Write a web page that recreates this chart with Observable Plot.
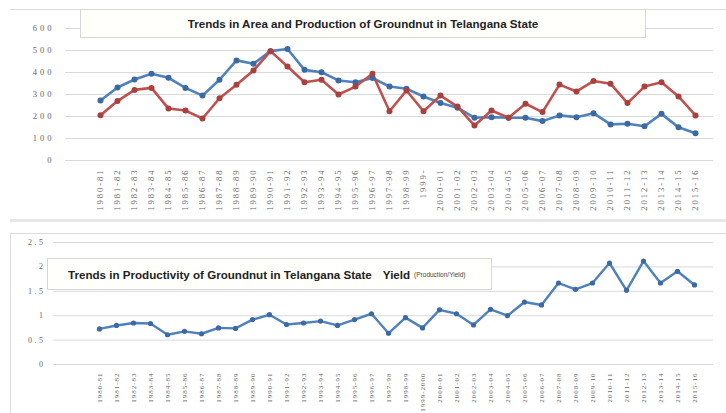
<!DOCTYPE html>
<html>
<head>
<meta charset="utf-8">
<script src="https://cdn.jsdelivr.net/npm/d3@7"></script>
<script src="https://cdn.jsdelivr.net/npm/@observablehq/plot@0.6"></script>
<style>
  html, body { margin: 0; padding: 0; background: #fff; }
  #page { position: relative; width: 726px; height: 413px; overflow: hidden; background: #fff; font-family: "Liberation Sans", Arial, sans-serif; }
  .panel { position: absolute; border: 1px solid #dcdcdc; box-sizing: border-box; }
  .chart { position: absolute; left: 0; }
  .titlebox { position: absolute; box-sizing: border-box; border: 1px solid #d6d6d6; background: #fffffb; font-weight: bold; font-size: 11.6px; color: #222; display: flex; align-items: center; white-space: nowrap; }
  .chart svg text { font-family: "Liberation Serif", "DejaVu Serif", serif; fill: #666; }
  #top [aria-label="x-axis tick label"] text { letter-spacing: 2px; }
  #top [aria-label="y-axis tick label"] text { letter-spacing: 3px; }
  #bottom [aria-label="x-axis tick label"] text { letter-spacing: 1px; }
  #bottom [aria-label="y-axis tick label"] text { letter-spacing: 2.5px; }
</style>
</head>
<body>
<div id="page">
  <div class="panel" style="left:10px; top:9px; width:716px; height:213px; border-left:none; border-right:none; border-bottom:3px solid #e6e6e6;"></div>
  <div class="panel" style="left:10px; top:233px; width:716px; height:182px; border-right:none;"></div>
  <div id="top" class="chart" style="top:0px;"></div>
  <div id="bottom" class="chart" style="top:233px;"></div>
  <div class="titlebox" style="left:80px; top:9px; width:566px; height:29px; justify-content:center;">Trends in Area and Production of Groundnut in Telangana State</div>
  <div class="titlebox" style="left:47px; top:258px; width:445px; height:32px; padding-left:20px;">Trends in Productivity of Groundnut in Telangana State<span style="margin-left:11px;">Yield</span><span style="font-weight:normal; font-size:6.5px; margin-left:4px; color:#444;">(Production/Yield)</span></div>
</div>
<script>
const years = ["1980-81","1981-82","1982-83","1983-84","1984-85","1985-86","1986-87","1987-88","1988-89","1989-90",
  "1990-91","1991-92","1992-93","1993-94","1994-95","1995-96","1996-97","1997-98","1998-99","1999-2000",
  "2000-01","2001-02","2002-03","2003-04","2004-05","2005-06","2006-07","2007-08","2008-09","2009-10",
  "2010-11","2011-12","2012-13","2013-14","2014-15","2015-16"];

const area = [273,332,368,394,376,330,295,367,455,440,
  497,507,412,401,364,356,375,336,326,291,
  261,240,194,197,194,194,179,205,197,215,
  164,167,156,212,151,124];

const production = [206,270,321,330,236,227,191,283,344,409,
  497,427,356,367,300,336,394,224,318,224,
  295,245,159,227,194,258,220,345,314,361,
  349,261,336,356,291,205];

const yieldValues = [0.73,0.80,0.85,0.84,0.61,0.68,0.63,0.75,0.74,0.92,
  1.02,0.82,0.85,0.89,0.80,0.92,1.04,0.64,0.96,0.75,
  1.12,1.04,0.81,1.13,1.00,1.28,1.22,1.67,1.54,1.67,
  2.08,1.52,2.12,1.67,1.91,1.63];

const topTicks = [0,100,200,300,400,500,600];
const bottomTicks = [0,0.5,1,1.5,2,2.5];

const blue = "#4f81bd", blueDark = "#3b6aa3";
const red = "#c0504d", redDark = "#a8403d";

const topData = years.flatMap((yr, i) => [
  {year: yr, series: "Area", value: area[i]},
  {year: yr, series: "Production", value: production[i]}
]);
const yieldData = years.map((yr, i) => ({year: yr, value: yieldValues[i]}));

const topPlot = Plot.plot({
  width: 726, height: 222,
  marginLeft: 65, marginRight: 13, marginTop: 28, marginBottom: 62,
  x: {type: "point", domain: years, range: [91, 703], label: null},
  y: {domain: [0, 600], label: null},
  color: {domain: ["Area", "Production"], range: [blue, red]},
  marks: [
    Plot.gridY(topTicks, {stroke: "#d9d9d9", strokeOpacity: 1}),
    Plot.axisY(topTicks, {tickSize: 0, tickPadding: 11, fontSize: 8.5, label: null}),
    Plot.axisX({tickSize: 0, tickPadding: 8, tickRotate: -90, fontSize: 8.5, label: null,
      tickFormat: d => d === "1999-2000" ? "1999-" : d}),
    Plot.line(topData, {x: "year", y: "value", z: "series", stroke: "series", strokeWidth: 2.6}),
    Plot.dot(topData, {x: "year", y: "value", fill: d => d.series === "Area" ? blueDark : redDark, r: 3})
  ]
});
document.getElementById("top").appendChild(topPlot);

const bottomPlot = Plot.plot({
  width: 726, height: 180,
  marginLeft: 53, marginRight: 13, marginTop: 9, marginBottom: 49,
  x: {type: "point", domain: years, range: [85, 708], label: null},
  y: {domain: [0, 2.5], label: null},
  marks: [
    Plot.gridY(bottomTicks, {stroke: "#d9d9d9", strokeOpacity: 1}),
    Plot.axisY(bottomTicks, {tickSize: 0, tickPadding: 8, fontSize: 8, label: null, tickFormat: d => String(d)}),
    Plot.axisX({tickSize: 0, tickPadding: 8, tickRotate: -90, fontSize: 7, label: null}),
    Plot.line(yieldData, {x: "year", y: "value", stroke: blue, strokeWidth: 2.4}),
    Plot.dot(yieldData, {x: "year", y: "value", fill: blueDark, r: 2.6})
  ]
});
document.getElementById("bottom").appendChild(bottomPlot);
</script>
</body>
</html>
